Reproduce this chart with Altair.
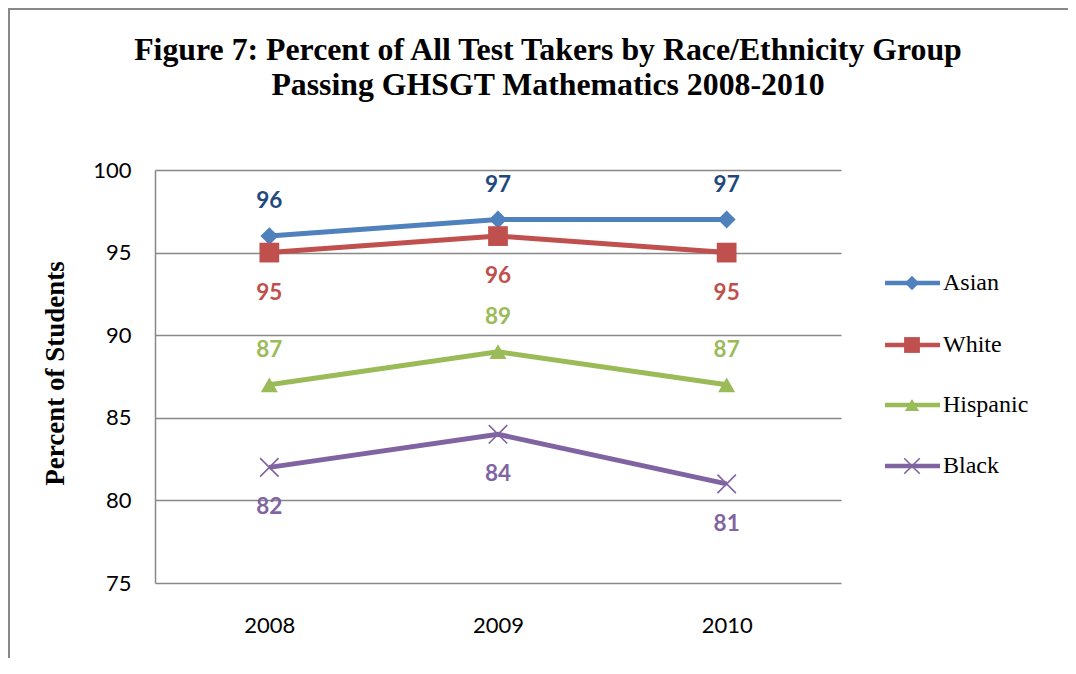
import altair as alt
import pandas as pd

# ---- data ----
years = ["2008", "2009", "2010"]
series = ["Asian", "White", "Hispanic", "Black"]
asian = [96, 97, 97]
white = [95, 96, 95]
hispanic = [87, 89, 87]
black = [82, 84, 81]
y_ticks = [75, 80, 85, 90, 95, 100]

title_lines = [
    "Figure 7: Percent of All Test Takers by Race/Ethnicity Group",
    "Passing GHSGT Mathematics 2008-2010",
]
y_title = "Percent of Students"

# ---- styles ----
line_colors = ["#4F81BD", "#C0504D", "#9BBB59", "#8064A2"]
label_colors = ["#1F497D", "#C0504D", "#9BBB59", "#8064A2"]
label_dy = [-35, 40, -35, 40]
shapes = ["diamond", "square", "triangle-up", "M-1,-1L1,1M-1,1L1,-1"]
sizes = [320, 390, 290, 340]
legend_sizes = [210, 250, 200, 240]
legend_y = [113, 175, 235, 296]
GRID = "#888888"

values = [asian, white, hispanic, black]
rows = []
for s, vals in zip(series, values):
    for yr, v in zip(years, vals):
        rows.append({"year": yr, "series": s, "value": v})
df = pd.DataFrame(rows)
one = pd.DataFrame({"k": [0]})

W, H = 686, 413

x_enc = alt.X(
    "year:O",
    scale=alt.Scale(type="point", domain=years, padding=0.5),
    axis=alt.Axis(
        title=None, labelAngle=0, labelFont="Lato", labelFontSize=22,
        labelColor="black", labelPadding=32, ticks=False, domain=False, grid=False,
    ),
)
y_enc = alt.Y(
    "value:Q",
    scale=alt.Scale(domain=[75, 100], nice=False, zero=False),
    axis=alt.Axis(
        values=y_ticks, title=y_title, titleFont="Liberation Serif",
        titleFontWeight="bold", titleFontSize=27, titleColor="black",
        titleAngle=270, titleX=-100, titleY=203, titleAlign="center",
        titleBaseline="middle", labelFont="Lato", labelFontSize=22,
        labelColor="black", labelPadding=24, ticks=False,
        domain=True, domainColor=GRID, domainWidth=1.5,
        grid=True, gridColor=GRID, gridWidth=1.5, gridOpacity=1,
    ),
)

layers = []

# outer border
layers.append(
    alt.Chart(one).mark_rect(fillOpacity=0, stroke=GRID, strokeWidth=2).encode(
        x=alt.value(-146), x2=alt.value(1300), y=alt.value(-161), y2=alt.value(900)
    )
)

# title
for txt, ty in zip(title_lines, [-110, -75]):
    layers.append(
        alt.Chart(one).mark_text(
            text=txt, font="Liberation Serif", fontWeight="bold", fontSize=31.8,
            align="center", baseline="alphabetic", color="black",
        ).encode(x=alt.value(393), y=alt.value(ty))
    )

for i, s in enumerate(series):
    base = alt.Chart(df).transform_filter(alt.datum.series == s)
    layers.append(
        base.mark_line(color=line_colors[i], strokeWidth=5).encode(x=x_enc, y=y_enc)
    )
    if shapes[i].startswith("M"):
        pt = base.mark_point(shape=shapes[i], size=sizes[i], filled=False,
                             color=line_colors[i], strokeWidth=1.6, opacity=1)
        lpt = alt.Chart(one).mark_point(shape=shapes[i], size=legend_sizes[i], filled=False,
                                        color=line_colors[i], strokeWidth=1.6, opacity=1)
    else:
        pt = base.mark_point(shape=shapes[i], size=sizes[i], filled=True,
                             color=line_colors[i], opacity=1)
        lpt = alt.Chart(one).mark_point(shape=shapes[i], size=legend_sizes[i], filled=True,
                                        color=line_colors[i], opacity=1)
    layers.append(pt.encode(x=x_enc, y=y_enc))
    layers.append(
        base.mark_text(
            dy=label_dy[i], font="Lato", fontWeight="bold", fontSize=22.5,
            color=label_colors[i], baseline="middle", align="center",
        ).encode(x=x_enc, y=y_enc, text="value:Q")
    )
    # legend entry
    ly = legend_y[i]
    layers.append(
        alt.Chart(one).mark_rule(color=line_colors[i], strokeWidth=4.5).encode(
            x=alt.value(730), x2=alt.value(785), y=alt.value(ly)
        )
    )
    layers.append(lpt.encode(x=alt.value(757), y=alt.value(ly)))
    layers.append(
        alt.Chart(one).mark_text(
            text=s, font="Liberation Serif", fontSize=24, align="left",
            baseline="middle", color="black",
        ).encode(x=alt.value(788), y=alt.value(ly))
    )

chart = alt.layer(*layers).properties(
    width=W, height=H,
    autosize="none",
    padding={"left": 147, "top": 162, "right": 227, "bottom": 75},
    background="white",
).configure_view(stroke=None)

chart.save("out.html", embed_options={"renderer": "svg", "actions": False})
